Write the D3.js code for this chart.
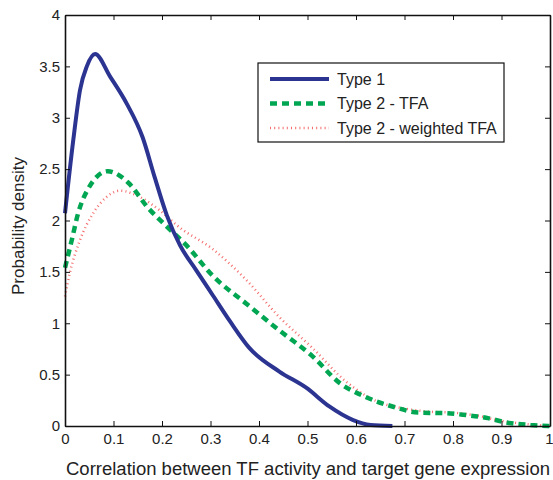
<!DOCTYPE html>
<html>
<head>
<meta charset="utf-8">
<script src="https://cdn.jsdelivr.net/npm/d3@7"></script>
<style>
  body { margin: 0; background: #fff; }
  svg { display: block; font-family: "Liberation Sans", Arial, Helvetica, sans-serif; }
</style>
</head>
<body>
<div id="chart"></div>
<script>
// values
const type1X = [0, 0.017, 0.031, 0.045, 0.062, 0.093, 0.127, 0.16, 0.185, 0.21, 0.237, 0.27, 0.305, 0.34, 0.38, 0.442, 0.498, 0.545, 0.593, 0.63, 0.675];
const type1Y = [2.07, 2.78, 3.27, 3.5, 3.62, 3.40, 3.14, 2.81, 2.42, 2.05, 1.76, 1.52, 1.27, 1.02, 0.76, 0.53, 0.37, 0.19, 0.06, 0.01, 0];

const tfaX = [0, 0.014, 0.027, 0.048, 0.088, 0.13, 0.17, 0.21, 0.25, 0.305, 0.374, 0.442, 0.51, 0.566, 0.621, 0.675, 0.73, 0.786, 0.82, 0.868, 0.915, 0.96, 1.0];
const tfaY = [1.54, 1.81, 2.07, 2.31, 2.48, 2.37, 2.13, 1.94, 1.76, 1.46, 1.19, 0.93, 0.68, 0.42, 0.28, 0.19, 0.13, 0.125, 0.11, 0.08, 0.03, 0.01, 0];

const wtfaX = [0, 0.01, 0.031, 0.058, 0.086, 0.113, 0.154, 0.195, 0.237, 0.305, 0.374, 0.442, 0.51, 0.58, 0.648, 0.7, 0.75, 0.8, 0.85, 0.9, 0.95, 1.0];
const wtfaY = [1.26, 1.49, 1.81, 2.07, 2.23, 2.29, 2.23, 2.1, 1.93, 1.72, 1.42, 1.06, 0.76, 0.43, 0.23, 0.17, 0.14, 0.13, 0.1, 0.05, 0.02, 0];

const xTicks = [0, 0.1, 0.2, 0.3, 0.4, 0.5, 0.6, 0.7, 0.8, 0.9, 1];
const yTicks = [0, 0.5, 1, 1.5, 2, 2.5, 3, 3.5, 4];
const seriesNames = ["Type 1", "Type 2 - TFA", "Type 2 - weighted TFA"];

const width = 553, height = 480;
const margin = {top: 15, right: 3, bottom: 54, left: 65};
const innerW = width - margin.left - margin.right;
const innerH = height - margin.top - margin.bottom;

const svg = d3.select("#chart").append("svg")
    .attr("width", width)
    .attr("height", height);

const g = svg.append("g")
    .attr("transform", `translate(${margin.left},${margin.top})`);

const x = d3.scaleLinear().domain([0, 1]).range([0, innerW]);
const y = d3.scaleLinear().domain([0, 4]).range([innerH, 0]);

// series styles
const series = [
    {name: seriesNames[0], xs: type1X, ys: type1Y, color: "#2c3491", width: 4, dash: null},
    {name: seriesNames[1], xs: tfaX, ys: tfaY, color: "#00a651", width: 4.5, dash: "7,5"},
    {name: seriesNames[2], xs: wtfaX, ys: wtfaY, color: "#f46c6c", width: 2.5, dash: "1,3.2"}
];

const line = d3.line()
    .x(d => x(d[0]))
    .y(d => y(d[1]))
    .curve(d3.curveMonotoneX);

// draw curves (weighted first so it sits under)
series.slice().reverse().forEach(s => {
    g.append("path")
        .datum(d3.zip(s.xs, s.ys))
        .attr("fill", "none")
        .attr("stroke", s.color)
        .attr("stroke-width", s.width)
        .attr("stroke-dasharray", s.dash)
        .attr("d", line);
});

// axes, ticks pointing inward
function styleAxis(sel) {
    sel.selectAll(".domain").attr("stroke", "#111").attr("stroke-width", 1.6);
    sel.selectAll(".tick line").attr("stroke", "#111").attr("stroke-width", 1);
    sel.selectAll("text").style("font-size", "15px").attr("fill", "#222");
}

const xAxis = g.append("g")
    .attr("transform", `translate(0,${innerH})`)
    .call(d3.axisBottom(x).tickValues(xTicks).tickSizeInner(-5).tickSizeOuter(0).tickPadding(7)
        .tickFormat(d3.format("")))
    .call(styleAxis);
// keep the last label inside the window
xAxis.selectAll(".tick:last-of-type text").attr("dx", "-1");

g.append("g")
    .call(d3.axisTop(x).tickValues(xTicks).tickSizeInner(-5).tickSizeOuter(0).tickFormat(""))
    .call(styleAxis);

g.append("g")
    .call(d3.axisLeft(y).tickValues(yTicks).tickSizeInner(-5).tickSizeOuter(0).tickPadding(5)
        .tickFormat(d3.format("")))
    .call(styleAxis);

g.append("g")
    .attr("transform", `translate(${innerW},0)`)
    .call(d3.axisRight(y).tickValues(yTicks).tickSizeInner(-5).tickSizeOuter(0).tickFormat(""))
    .call(styleAxis);

// axis titles
svg.append("text")
    .attr("x", 308)
    .attr("y", 475)
    .attr("text-anchor", "middle")
    .attr("textLength", 484)
    .attr("lengthAdjust", "spacingAndGlyphs")
    .style("font-size", "17.5px")
    .attr("fill", "#222")
    .text("Correlation between TF activity and target gene expression");

svg.append("text")
    .attr("transform", "translate(24,226) rotate(-90)")
    .attr("text-anchor", "middle")
    .style("font-size", "17px")
    .attr("fill", "#222")
    .text("Probability density");

// legend
const legend = svg.append("g").attr("transform", "translate(258,63)");
legend.append("rect")
    .attr("width", 246)
    .attr("height", 79)
    .attr("fill", "#fff")
    .attr("stroke", "#111")
    .attr("stroke-width", 1.2);

series.forEach((s, i) => {
    const ly = 16 + i * 24.5;
    legend.append("line")
        .attr("x1", 12).attr("x2", 71)
        .attr("y1", ly).attr("y2", ly)
        .attr("stroke", s.color)
        .attr("stroke-width", s.width)
        .attr("stroke-dasharray", s.dash);
    legend.append("text")
        .attr("x", 79)
        .attr("y", ly + 5.5)
        .style("font-size", "16px")
        .attr("fill", "#222")
        .text(s.name);
});
</script>
</body>
</html>
